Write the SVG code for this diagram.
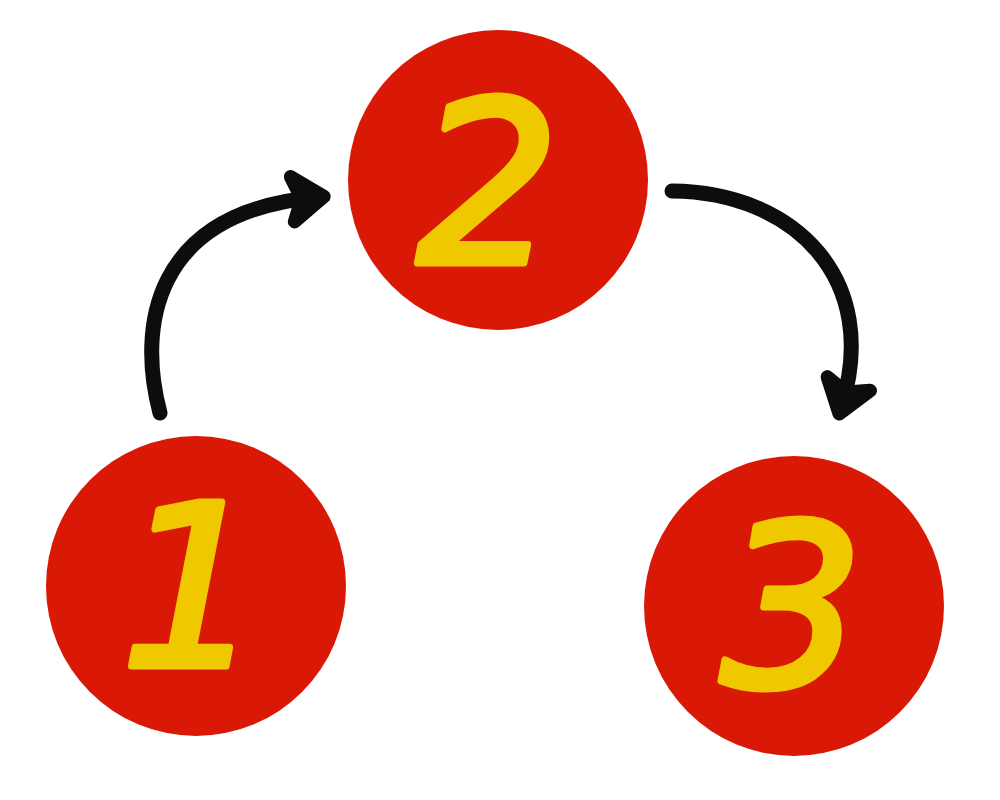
<svg xmlns="http://www.w3.org/2000/svg" width="1000" height="800" viewBox="0 0 1000 800">
<style>
.node{fill:#D91905}
.digit{fill:#F0C800;stroke:#F0C800;stroke-width:7;stroke-linejoin:round;font-family:"DejaVu Sans",sans-serif;font-size:225px;text-anchor:middle;font-style:oblique}
.arrow{fill:none;stroke:#0C0D0C;stroke-width:15;stroke-linecap:round}
</style>
<defs>
<marker id="head" viewBox="-4 -4 6 8" refX="0" refY="0" markerWidth="6" markerHeight="8" orient="auto" markerUnits="strokeWidth">
<path d="M-1.7,-1.5 L0.4,0 L-1.7,1.5 L-1.1,0 Z" fill="#0C0D0C" stroke="#0C0D0C" stroke-width="0.9" stroke-linejoin="round" stroke-linecap="round"/>
</marker>
</defs>
<rect width="1000" height="800" fill="#FFFFFF"/>
<g id="connectors">
<path class="arrow" d="M160,413 C138,330 150,212 318,197" marker-end="url(#head)"/>
<path class="arrow" d="M672,191 C795,192 882,280 841,408" marker-end="url(#head)"/>
</g>
<g id="node1">
<circle class="node" cx="196" cy="586" r="150"/>
<text class="digit" x="192" y="666">1</text>
</g>
<g id="node2">
<circle class="node" cx="498" cy="180" r="150"/>
<text class="digit" x="488" y="263">2</text>
</g>
<g id="node3">
<circle class="node" cx="794" cy="606" r="150"/>
<text class="digit" x="792" y="686">3</text>
</g>
</svg>
